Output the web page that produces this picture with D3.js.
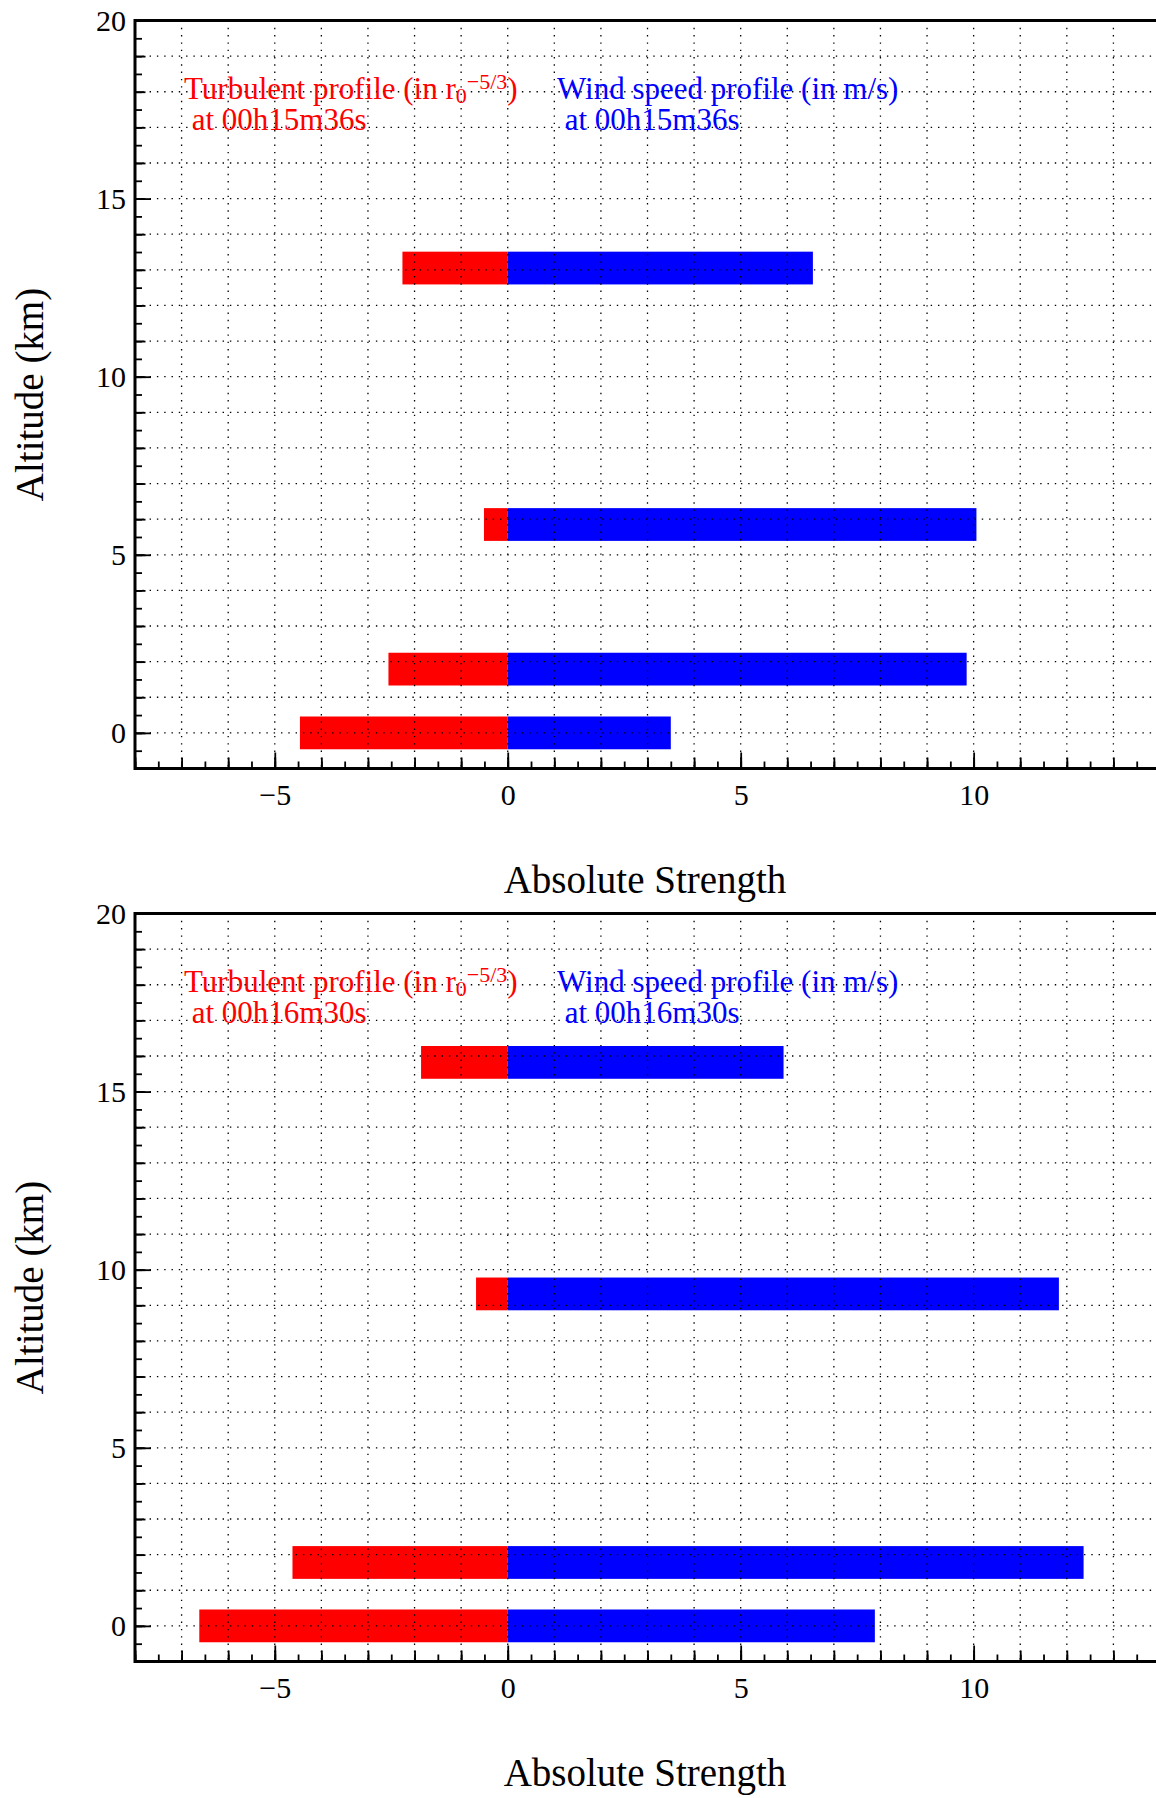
<!DOCTYPE html>
<html><head><meta charset="utf-8">
<script src="https://cdn.jsdelivr.net/npm/d3@7"></script>
<style>html,body{margin:0;padding:0;background:#fff;} svg{display:block;}</style>
</head><body>
<script>
// ---------- data ----------
const xDomain = [-8, 14];
const yDomain = [-1, 20];
const xTickValues = [-5, 0, 5, 10];
const xTickLabels = ["\u22125", "0", "5", "10"];
const yTickValues = [0, 5, 10, 15, 20];
const yTickLabels = ["0", "5", "10", "15", "20"];

const altitudes1  = [0, 1.79, 5.85, 13.05];
const turbulence1 = [-4.46, -2.56, -0.51, -2.26];
const wind1       = [3.50, 9.85, 10.06, 6.55];
const time1 = "00h15m36s";

const altitudes2  = [0, 1.78, 9.32, 15.82];
const turbulence2 = [-6.62, -4.62, -0.68, -1.86];
const wind2       = [7.88, 12.36, 11.83, 5.92];
const time2 = "00h16m30s";

const xTitle = "Absolute Strength";
const yTitle = "Altitude (km)";
const windLabel = "Wind speed profile (in m/s)";

// ---------- layout ----------
const W = 1156, H = 1798;
const left = 135, right = 1160, plotH = 748;
const barHalf = 0.46;
const font = "'Liberation Serif','Times New Roman',Times,serif";

const svg = d3.select("body").append("svg")
  .attr("width", W).attr("height", H)
  .style("font-family", font);

const panels = [
  {alt: altitudes1, turb: turbulence1, wind: wind1, time: time1, top: 20.5},
  {alt: altitudes2, turb: turbulence2, wind: wind2, time: time2, top: 913.5}
];

panels.forEach(p => {
  const g = svg.append("g").attr("transform", `translate(0,${p.top})`);
  const x = d3.scaleLinear().domain(xDomain).range([left, right]);
  const y = d3.scaleLinear().domain(yDomain).range([plotH, 0]);
  const idx = d3.range(p.alt.length);

  // bars
  g.selectAll("rect.turb").data(idx).join("rect").attr("class", "turb")
    .attr("x", i => x(Math.min(p.turb[i], 0)))
    .attr("width", i => Math.abs(x(p.turb[i]) - x(0)))
    .attr("y", i => y(p.alt[i] + barHalf))
    .attr("height", i => y(p.alt[i] - barHalf) - y(p.alt[i] + barHalf))
    .attr("fill", "#ff0000");
  g.selectAll("rect.wind").data(idx).join("rect").attr("class", "wind")
    .attr("x", x(0))
    .attr("width", i => x(p.wind[i]) - x(0))
    .attr("y", i => y(p.alt[i] + barHalf))
    .attr("height", i => y(p.alt[i] - barHalf) - y(p.alt[i] + barHalf))
    .attr("fill", "#0000ff");

  // dotted grid
  const gx = d3.range(xDomain[0] + 1, xDomain[1]);
  const gy = d3.range(yDomain[0] + 1, yDomain[1]);
  g.append("g").selectAll("line").data(gx).join("line")
    .attr("x1", d => x(d)).attr("x2", d => x(d))
    .attr("y1", 0).attr("y2", plotH)
    .attr("stroke", "#000").attr("stroke-width", 1.3)
    .attr("stroke-dasharray", "1.4,5.9");
  g.append("g").selectAll("line").data(gy).join("line")
    .attr("x1", left).attr("x2", right)
    .attr("y1", d => y(d)).attr("y2", d => y(d))
    .attr("stroke", "#000").attr("stroke-width", 1.3)
    .attr("stroke-dasharray", "1.4,5.9");

  // minor / medium ticks
  const halfX = d3.range(xDomain[0], xDomain[1], 0.5);
  const halfY = d3.range(yDomain[0], yDomain[1], 0.5);
  const intX = d3.range(xDomain[0], xDomain[1] + 1);
  const intY = d3.range(yDomain[0], yDomain[1] + 1);
  const styleTicks = sel => { sel.select(".domain").remove(); sel.selectAll("line").attr("stroke", "#000").attr("stroke-width", 1.8); sel.selectAll("text").remove(); };

  g.append("g").attr("transform", `translate(0,${plotH})`)
    .call(d3.axisBottom(x).tickValues(halfX).tickSize(-7)).call(styleTicks);
  g.append("g").attr("transform", `translate(0,${plotH})`)
    .call(d3.axisBottom(x).tickValues(intX).tickSize(-11)).call(styleTicks);
  g.append("g").attr("transform", `translate(${left},0)`)
    .call(d3.axisLeft(y).tickValues(halfY).tickSize(-7)).call(styleTicks);
  g.append("g").attr("transform", `translate(${left},0)`)
    .call(d3.axisLeft(y).tickValues(intY).tickSize(-10.5)).call(styleTicks);

  // major ticks with labels
  const xa = g.append("g").attr("transform", `translate(0,${plotH})`)
    .call(d3.axisBottom(x).tickValues(xTickValues).tickSize(-16).tickPadding(15)
      .tickFormat((d, i) => xTickLabels[i]));
  xa.select(".domain").remove();
  xa.selectAll("line").attr("stroke", "#000").attr("stroke-width", 1.8);
  xa.selectAll("text").attr("font-family", font).attr("font-size", 30).attr("fill", "#000");

  const ya = g.append("g").attr("transform", `translate(${left},0)`)
    .call(d3.axisLeft(y).tickValues(yTickValues).tickSize(-16).tickPadding(9)
      .tickFormat((d, i) => yTickLabels[i]));
  ya.select(".domain").remove();
  ya.selectAll("line").attr("stroke", "#000").attr("stroke-width", 1.8);
  ya.selectAll("text").attr("font-family", font).attr("font-size", 30).attr("fill", "#000");

  // frame (left, bottom, top)
  const frame = g.append("g").attr("stroke", "#000").attr("stroke-width", 3).attr("fill", "none");
  frame.append("line").attr("x1", left).attr("x2", left).attr("y1", -1.5).attr("y2", plotH + 1.5);
  frame.append("line").attr("x1", left).attr("x2", right).attr("y1", plotH).attr("y2", plotH);
  frame.append("line").attr("x1", left).attr("x2", right).attr("y1", 0).attr("y2", 0);

  // annotations (two-line labels, each as one text element)
  const t1 = g.append("text").attr("x", 184).attr("y", 78).attr("font-size", 31).attr("fill", "#ff0000")
    .style("white-space", "pre");
  t1.append("tspan").text("Turbulent profile (in r");
  t1.append("tspan").attr("font-size", 22).attr("dy", 4).text("0");
  t1.append("tspan").attr("font-size", 22).attr("dy", -14).text("\u22125/3");
  t1.append("tspan").attr("dy", 10).text(")");
  t1.append("tspan").attr("x", 184).attr("y", 109).text(" at " + p.time);

  const t2 = g.append("text").attr("x", 557).attr("y", 78).attr("font-size", 31).attr("fill", "#0000ff")
    .style("white-space", "pre");
  t2.append("tspan").text(windLabel);
  t2.append("tspan").attr("x", 557).attr("y", 109).text(" at " + p.time);

  // axis titles
  g.append("text").attr("x", 645).attr("y", 872).attr("text-anchor", "middle")
    .attr("font-size", 39).attr("fill", "#000").text(xTitle);
  g.append("text").attr("transform", `translate(43,${plotH / 2}) rotate(-90)`)
    .attr("text-anchor", "middle").attr("font-size", 39).attr("fill", "#000").text(yTitle);
});
</script>
</body></html>
